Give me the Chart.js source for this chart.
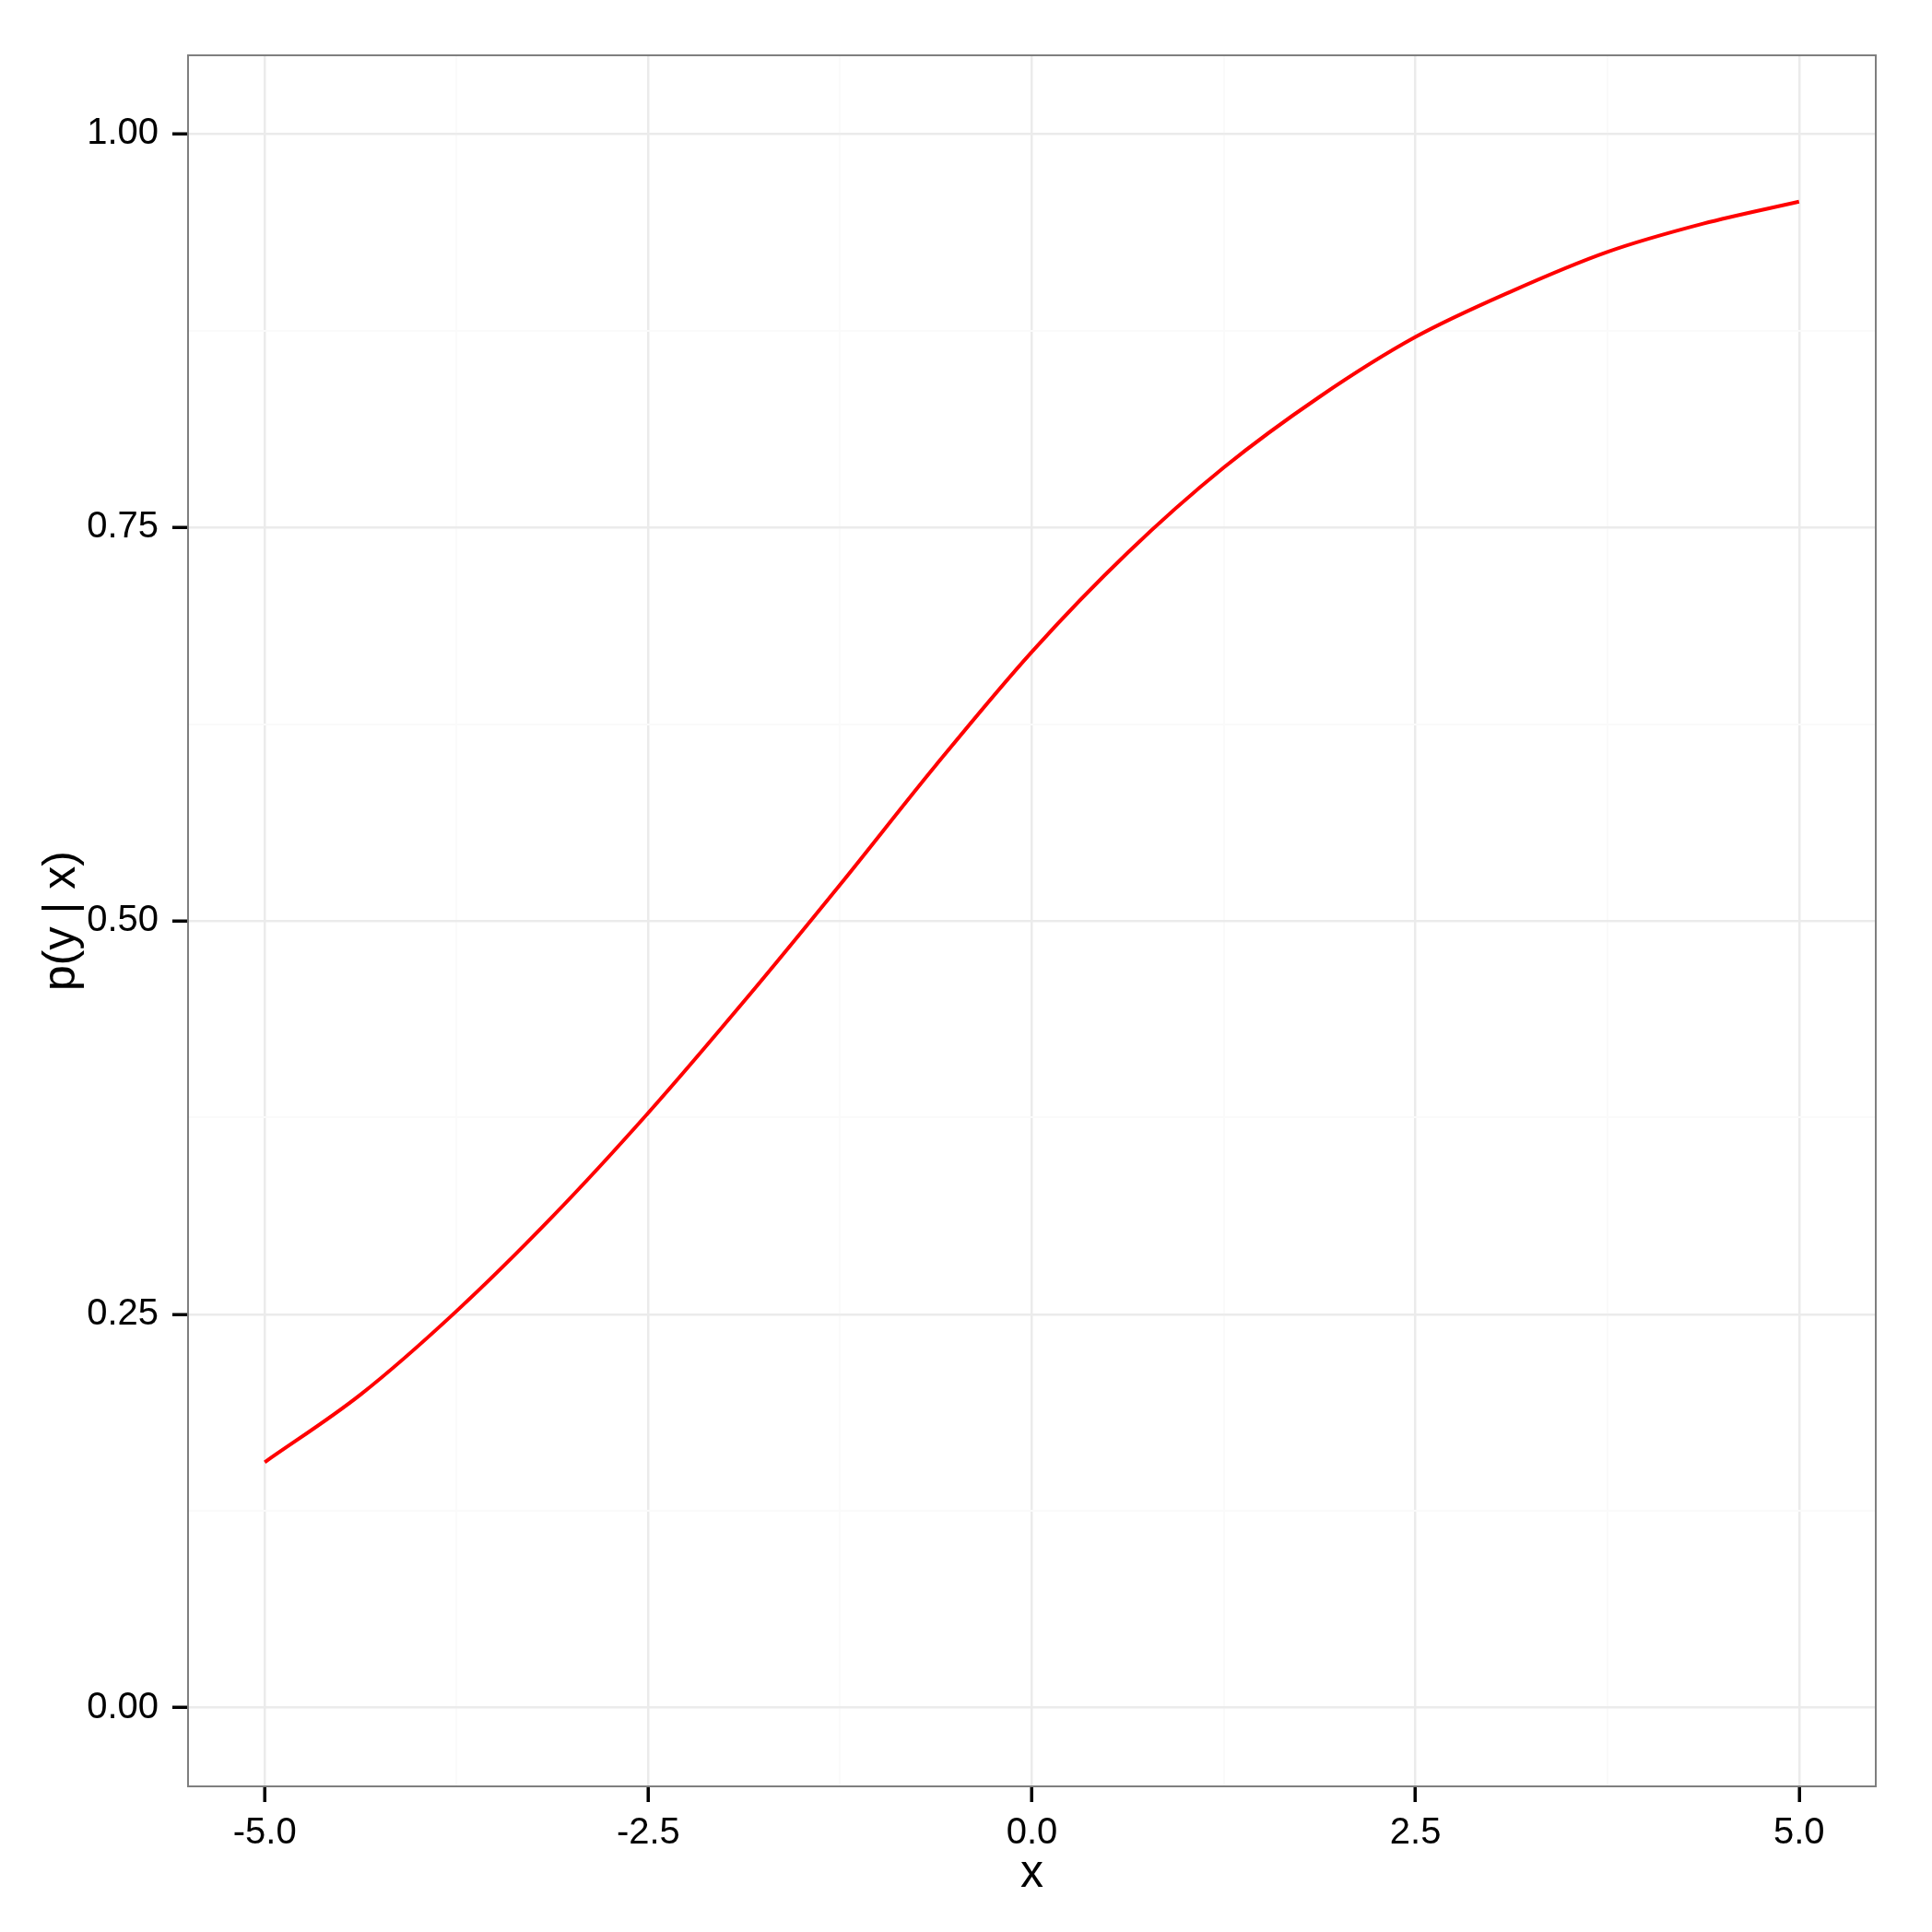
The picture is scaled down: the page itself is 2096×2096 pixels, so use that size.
<!DOCTYPE html>
<html>
<head>
<meta charset="utf-8">
<script src="https://cdn.jsdelivr.net/npm/chart.js@4.4.1/dist/chart.umd.min.js"></script>
<style>
  html, body { margin: 0; padding: 0; background: #fff; }
  #wrap { width: 2096px; height: 2096px; }
</style>
</head>
<body>
<div id="wrap"><canvas id="grafica" width="2096" height="2096"></canvas></div>
<script>
// valores
const valoresX = [-5, -4.375, -3.75, -3.125, -2.5, -1.875, -1.25, -0.625, 0,
  0.625, 1.25, 1.875, 2.5, 3.125, 3.75, 4.375, 5];
const valoresY = [0.156, 0.199, 0.252, 0.312, 0.378, 0.449, 0.523, 0.599, 0.671,
  0.734, 0.788, 0.833, 0.871, 0.900, 0.925, 0.943, 0.957];

// ticks de los ejes
const ticksX = [-5, -2.5, 0, 2.5, 5];
const etiquetasX = ["-5.0", "-2.5", "0.0", "2.5", "5.0"];
const ticksXMenores = [-3.75, -1.25, 1.25, 3.75];
const ticksY = [0, 0.25, 0.5, 0.75, 1];
const etiquetasY = ["0.00", "0.25", "0.50", "0.75", "1.00"];
const ticksYMenores = [0.125, 0.375, 0.625, 0.875];

const fuente = "'Liberation Sans', Arial, sans-serif";

function esMayor(lista, v) {
  return lista.includes(v);
}

// dibuja el marco gris del panel
const marcoPanel = {
  id: "marcoPanel",
  afterDatasetsDraw(chart) {
    const { ctx, chartArea } = chart;
    ctx.save();
    ctx.strokeStyle = "#7f7f7f";
    ctx.lineWidth = 2;
    ctx.strokeRect(chartArea.left, chartArea.top,
      chartArea.right - chartArea.left, chartArea.bottom - chartArea.top);
    ctx.restore();
  },
};

const config = {
  type: "line",
  data: {
    datasets: [
      {
        label: "p(y | x)",
        data: valoresX.map((x, i) => ({ x: x, y: valoresY[i] })),
        borderColor: "#ff0000",
        borderWidth: 4,
        pointRadius: 0,
        fill: false,
        cubicInterpolationMode: "monotone",
      },
    ],
  },
  options: {
    responsive: false,
    animation: false,
    devicePixelRatio: 1,
    layout: { padding: { left: 0, top: 60, right: 61, bottom: 0 } },
    plugins: { legend: { display: false }, tooltip: { enabled: false } },
    scales: {
      x: {
        type: "linear",
        min: -5.5,
        max: 5.5,
        afterBuildTicks: (scale) => {
          scale.ticks = ticksX.concat(ticksXMenores)
            .sort((a, b) => a - b)
            .map((v) => ({ value: v }));
        },
        afterFit: (scale) => { scale.height = 158; },
        border: { display: false },
        grid: {
          color: (c) => esMayor(ticksX, c.tick.value) ? "#ebebeb" : "#fafafa",
          lineWidth: (c) => esMayor(ticksX, c.tick.value) ? 2.5 : 2,
          tickColor: (c) => esMayor(ticksX, c.tick.value) ? "#000" : "rgba(0,0,0,0)",
          tickLength: 17,
          tickWidth: 3.5,
        },
        ticks: {
          autoSkip: false,
          maxRotation: 0,
          padding: 10,
          color: "#000",
          font: { family: fuente, size: 40 },
          callback: (v) => {
            const i = ticksX.indexOf(v);
            return i >= 0 ? etiquetasX[i] : "";
          },
        },
        title: {
          display: true,
          text: "x",
          color: "#000",
          font: { family: fuente, size: 50 },
          padding: { top: 0, bottom: 33 },
        },
      },
      y: {
        type: "linear",
        min: -0.05,
        max: 1.05,
        afterBuildTicks: (scale) => {
          scale.ticks = ticksY.concat(ticksYMenores)
            .sort((a, b) => a - b)
            .map((v) => ({ value: v }));
        },
        afterFit: (scale) => { scale.width = 204; },
        border: { display: false },
        grid: {
          color: (c) => esMayor(ticksY, c.tick.value) ? "#ebebeb" : "#fafafa",
          lineWidth: (c) => esMayor(ticksY, c.tick.value) ? 2.5 : 2,
          tickColor: (c) => esMayor(ticksY, c.tick.value) ? "#000" : "rgba(0,0,0,0)",
          tickLength: 17,
          tickWidth: 3.5,
        },
        ticks: {
          autoSkip: false,
          padding: 15,
          color: "#000",
          font: { family: fuente, size: 40 },
          callback: (v) => {
            const i = ticksY.indexOf(v);
            return i >= 0 ? etiquetasY[i] : "";
          },
        },
        title: {
          display: true,
          text: "p(y | x)",
          color: "#000",
          font: { family: fuente, size: 50 },
          padding: { top: 37, bottom: 0 },
        },
      },
    },
  },
  plugins: [marcoPanel],
};

new Chart(document.getElementById("grafica"), config);
</script>
</body>
</html>
